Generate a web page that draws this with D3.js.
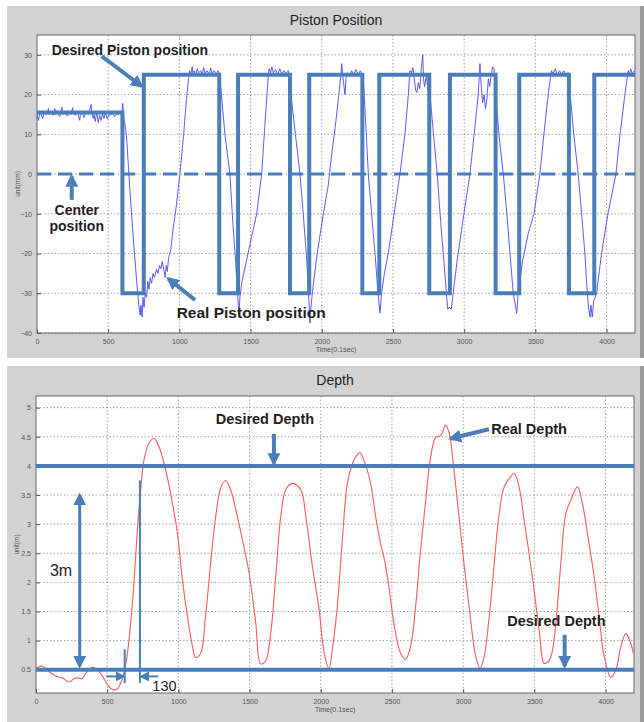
<!DOCTYPE html>
<html>
<head>
<meta charset="utf-8">
<script src="https://cdn.jsdelivr.net/npm/d3@7"></script>
<style>
  body { margin: 0; background: #fff; }
  text { font-family: "Liberation Sans", Arial, sans-serif; }
  .note { font-weight: bold; fill: #1e1e1e; }
</style>
</head>
<body>
<div id="svg-container"></div>
<script>
////////////////////////////  Data  ////////////////////////////
const timeTicks = [0, 500, 1000, 1500, 2000, 2500, 3000, 3500, 4000];
const pistonTicks = [-40, -30, -20, -10, 0, 10, 20, 30];
const depthTicks = [0.5, 1, 1.5, 2, 2.5, 3, 3.5, 4, 4.5, 5];

// desired piston position (step after each time)
const desiredT = [0, 600, 750, 1280, 1412, 1777, 1912, 2285, 2404, 2755, 2900, 3221, 3387, 3736, 3914, 4200];
const desiredV = [15.5, -30, 25, -30, 25, -30, 25, -30, 25, -30, 25, -30, 25, -30, 25, 25];
const centerV = 0;

// real piston position [time, mm]
const realPiston = [
  [0,15],[10,13.5],[20,15.5],[30,15],[40,14],[50,15.5],[60,15],[75,15.2],[80,16.5],[85,15],
  [100,15.3],[115,14.8],[125,16.5],[130,15],[145,15.4],[160,14.5],[175,16.8],[180,15],[200,15.3],
  [215,14.6],[225,15.8],[240,15],[250,16.7],[255,15.2],[270,14.8],[285,15.5],[300,13.5],[305,15],
  [320,15.3],[330,14.2],[340,15.6],[360,15],[380,17.5],[385,15.2],[395,14],[400,15],[410,13.2],
  [415,14.5],[420,15.6],[430,13],[440,14.8],[450,13.5],[460,15.2],[470,14],[480,15.4],[495,13.8],
  [505,15],[515,14.8],[530,15.3],[545,14.5],[560,15],[580,15.2],[595,15],[602,17.8],[610,14],
  [620,12],[630,9],[645,0],[660,-8],[680,-18],[700,-27],[715,-33],[725,-35.5],[730,-33],[738,-36],
  [745,-31],[752,-33.5],[760,-30],[770,-31],[778,-27],[787,-29],[795,-26],[805,-27.5],[815,-25],
  [825,-26],[840,-24],[850,-25],[860,-23],[870,-23.8],[880,-22],[890,-24],[900,-26],[908,-23],
  [915,-24.5],[925,-21],[940,-19],[955,-14],[975,-9],[1004,0],[1030,10],[1050,19],[1065,24],
  [1072,26],[1080,25],[1090,27],[1095,25.5],[1105,26],[1115,24.8],[1125,26.5],[1135,25.5],
  [1150,26],[1160,24.9],[1170,26.8],[1180,25.5],[1195,26],[1210,25],[1220,26.7],[1230,25.4],
  [1245,26],[1260,25],[1270,26],[1280,25.5],
  [1290,22],[1300,18],[1320,10],[1355,0],[1375,-12],[1395,-22],[1410,-31],[1419,-35.5],[1425,-31],
  [1440,-27],[1470,-22],[1500,-17],[1543,-10],[1578,0],[1600,12],[1615,20],[1625,25],[1630,26.5],
  [1640,25.5],[1650,27],[1660,25.5],[1675,26.3],[1690,25],[1705,26.5],[1720,25.2],[1735,26],
  [1750,25.3],[1765,26],
  [1775,24],[1790,18],[1815,10],[1847,0],[1870,-10],[1895,-22],[1910,-32],[1917,-37.5],[1925,-33],
  [1940,-28],[1968,-20],[2011,-10],[2045,-3],[2069,4.8],[2095,12],[2120,20],[2135,25],[2140,27.8],
  [2150,24],[2163,20],[2170,24],[2180,25.5],[2195,24.5],[2210,26],[2225,25],[2240,26.3],[2255,25],
  [2270,26],[2285,25],
  [2295,22],[2310,12],[2327,0],[2350,-10],[2374,-20],[2395,-30],[2409,-35],[2420,-30],[2440,-25],
  [2467,-20],[2500,-12],[2549,0],[2584,10],[2608,20],[2619,26],[2630,25.5],[2640,26.8],[2650,24],
  [2660,21],[2668,20.5],[2678,23],[2688,21.5],[2695,24],[2700,27],[2709,30],[2715,24],[2722,22],
  [2735,25],[2745,21],[2760,20],
  [2775,14],[2790,8],[2811,0],[2835,-12],[2858,-22],[2875,-30],[2885,-34],[2895,-33.5],[2910,-34],
  [2923,-30],[2950,-22],[2990,-12],[3041,0],[3070,10],[3099,20],[3111,27.8],[3120,22],[3130,18],
  [3140,20],[3150,16.5],[3160,19],[3170,24],[3180,22],[3190,25],[3200,27],[3210,26.5],
  [3225,18],[3250,8],[3275,0],[3300,-10],[3322,-20],[3345,-30],[3369,-35],[3380,-30],[3410,-22],
  [3450,-15],[3490,-10],[3532,0],[3560,10],[3590,20],[3605,24],[3614,26],[3625,25.3],[3640,26.5],
  [3655,25],[3670,26],[3685,25.2],[3700,26],[3715,25],[3731,25.5],
  [3745,20],[3770,10],[3801,0],[3825,-10],[3848,-20],[3865,-30],[3875,-34],[3884,-36],[3890,-33],
  [3900,-36],[3910,-32],[3930,-30],[3965,-20],[4010,-10],[4066,0],[4095,10],[4129,20],[4152,26],
  [4160,25],[4170,26.5],[4180,25.3],[4195,26]
];

// desired depth levels (m)
const desiredDepth = [4, 0.5];

// real depth [time, m]
const realDepth = [
  [2,0.53],[45,0.56],[91,0.47],[138,0.39],[185,0.36],[232,0.29],[279,0.36],[325,0.35],[360,0.47],
  [396,0.54],[431,0.5],[466,0.39],[501,0.25],[536,0.16],[571,0.17],[595,0.27],[618,0.44],[642,0.78],
  [665,1.3],[688,1.99],[712,2.9],[735,3.58],[758,4.1],[793,4.39],[829,4.47],[864,4.33],[911,3.93],
  [958,3.36],[993,2.85],[1028,2.05],[1063,1.42],[1098,0.91],[1121,0.71],[1156,0.78],[1191,1.42],
  [1227,2.34],[1262,3.13],[1297,3.62],[1332,3.75],[1367,3.59],[1414,3.13],[1449,2.74],[1496,2.17],
  [1543,1.31],[1578,0.6],[1613,0.65],[1649,1.14],[1684,2.11],[1719,3.13],[1754,3.59],[1801,3.7],
  [1860,3.59],[1895,3.13],[1941,2.28],[1988,1.54],[2023,0.8],[2058,0.52],[2081,0.84],[2116,1.58],
  [2151,2.72],[2186,3.69],[2221,4.03],[2245,4.15],[2276,4.23],[2304,4.09],[2351,3.69],[2386,3.12],
  [2421,2.66],[2444,2.43],[2479,1.92],[2514,1.29],[2561,0.78],[2596,0.68],[2631,0.9],[2666,1.58],
  [2701,2.55],[2737,3.41],[2772,4.15],[2807,4.49],[2842,4.52],[2877,4.7],[2901,4.57],[2936,3.92],
  [2971,3.12],[3006,2.32],[3042,1.58],[3089,0.72],[3119,0.52],[3147,0.72],[3183,1.41],[3218,2.32],
  [3253,3.18],[3288,3.64],[3323,3.78],[3358,3.87],[3393,3.64],[3428,3.07],[3463,2.5],[3498,1.87],
  [3534,1.18],[3569,0.61],[3599,0.64],[3623,0.78],[3651,1.3],[3686,2.32],[3721,3.18],[3756,3.41],
  [3803,3.64],[3838,3.35],[3873,2.84],[3920,2.1],[3955,1.41],[3991,0.72],[4037,0.37],[4073,0.5],
  [4108,0.9],[4143,1.12],[4178,0.95],[4195,0.78]
];

////////////////////////////  Init  ////////////////////////////
const W = 644, H = 722;
const blue = "#4a7ebb";

const svg = d3.select("#svg-container").append("svg")
  .attr("width", W).attr("height", H);

svg.append("rect").attr("width", W).attr("height", H).attr("fill", "#fff");

const defs = svg.append("defs");
function marker(id, size) {
  defs.append("marker")
    .attr("id", id)
    .attr("viewBox", "0 0 10 10")
    .attr("refX", 8).attr("refY", 5)
    .attr("markerUnits", "userSpaceOnUse")
    .attr("markerWidth", size).attr("markerHeight", size)
    .attr("orient", "auto-start-reverse")
    .append("path").attr("d", "M0,0L10,5L0,10z").attr("fill", blue);
}
marker("head", 13);
marker("headS", 10);

// one matlab-like panel
function panel(cfg) {
  const g = svg.append("g");
  g.append("rect")
    .attr("x", 7).attr("y", cfg.top).attr("width", 634).attr("height", cfg.bottom - cfg.top)
    .attr("fill", "#d2d2d2");
  g.append("rect")
    .attr("x", 640).attr("y", cfg.top).attr("width", 4).attr("height", cfg.bottom - cfg.top)
    .attr("fill", "#9a9a9a");

  const x = d3.scaleLinear().domain([0, 4200]).range([cfg.left, cfg.right]);
  const y = d3.scaleLinear().domain(cfg.yDomain).range([cfg.plotBottom, cfg.plotTop]);

  g.append("rect")
    .attr("x", cfg.left).attr("y", cfg.plotTop)
    .attr("width", cfg.right - cfg.left).attr("height", cfg.plotBottom - cfg.plotTop)
    .attr("fill", "#fff");

  // grid
  g.append("g").selectAll("line").data(timeTicks.slice(1)).join("line")
    .attr("x1", d => x(d)).attr("x2", d => x(d))
    .attr("y1", cfg.plotTop).attr("y2", cfg.plotBottom)
    .attr("stroke", "#8a8a8a").attr("stroke-width", 0.8).attr("stroke-dasharray", "1.5,2");
  g.append("g").selectAll("line").data(cfg.yTicks).join("line")
    .attr("x1", cfg.left).attr("x2", cfg.right)
    .attr("y1", d => y(d)).attr("y2", d => y(d))
    .attr("stroke", "#8a8a8a").attr("stroke-width", 0.8).attr("stroke-dasharray", "1.5,2");

  // axes
  const xAxis = g.append("g")
    .attr("transform", `translate(0,${cfg.plotBottom})`)
    .call(d3.axisBottom(x).tickValues(timeTicks).tickSize(-4).tickPadding(6).tickFormat(d3.format("d")));
  const yAxis = g.append("g")
    .attr("transform", `translate(${cfg.left},0)`)
    .call(d3.axisLeft(y).tickValues(cfg.yTicks).tickSize(-4).tickPadding(5).tickFormat(d3.format("")));
  [xAxis, yAxis].forEach(a => {
    a.select(".domain").remove();
    a.selectAll(".tick line").attr("stroke", "#555");
    a.selectAll(".tick text").attr("font-size", 7).attr("fill", "#555")
      .attr("font-family", "Liberation Sans, Arial, sans-serif");
  });

  g.append("rect")
    .attr("x", cfg.left).attr("y", cfg.plotTop)
    .attr("width", cfg.right - cfg.left).attr("height", cfg.plotBottom - cfg.plotTop)
    .attr("fill", "none").attr("stroke", "#666").attr("stroke-width", 1);

  g.append("text")
    .attr("x", (cfg.left + cfg.right) / 2).attr("y", cfg.top + 19)
    .attr("text-anchor", "middle").attr("font-size", 14).attr("fill", "#222")
    .text(cfg.title);
  g.append("text")
    .attr("x", (cfg.left + cfg.right) / 2).attr("y", cfg.plotBottom + 19)
    .attr("text-anchor", "middle").attr("font-size", 7).attr("fill", "#555")
    .text("Time(0.1sec)");
  g.append("text")
    .attr("transform", `translate(${cfg.left - 17},${(cfg.plotTop + cfg.plotBottom) / 2}) rotate(-90)`)
    .attr("text-anchor", "middle").attr("font-size", 6.5).attr("fill", "#555")
    .text(cfg.yLabel);

  return { g, x, y };
}

function arrow(g, x, y, a, b, width, head, both) {
  const l = g.append("line")
    .attr("x1", x(a[0])).attr("y1", y(a[1]))
    .attr("x2", x(b[0])).attr("y2", y(b[1]))
    .attr("stroke", blue).attr("stroke-width", width)
    .attr("marker-end", `url(#${head})`);
  if (both) l.attr("marker-start", `url(#${head})`);
}

function note(g, x, y, t, v, str, size, anchor, bold) {
  return g.append("text")
    .attr("class", bold === false ? null : "note")
    .attr("x", x(t)).attr("y", y(v))
    .attr("dy", "0.35em")
    .attr("text-anchor", anchor || "start")
    .attr("font-size", size)
    .attr("fill", "#1e1e1e")
    .text(str);
}

////////////////////////////  Piston  ////////////////////////////
const pTop = panel({
  title: "Piston Position", yLabel: "unit(mm)",
  top: 6, bottom: 358, left: 37, right: 635, plotTop: 35, plotBottom: 333,
  yDomain: [-40, 35], yTicks: pistonTicks
});

const desired = desiredT.map((t, i) => [t, desiredV[i]]);

pTop.g.append("line")
  .attr("x1", pTop.x(0)).attr("x2", pTop.x(4200))
  .attr("y1", pTop.y(centerV)).attr("y2", pTop.y(centerV))
  .attr("stroke", blue).attr("stroke-width", 3).attr("stroke-dasharray", "14,7");

pTop.g.append("path")
  .datum(realPiston)
  .attr("d", d3.line().x(d => pTop.x(d[0])).y(d => pTop.y(d[1])))
  .attr("fill", "none").attr("stroke", "#4848ff").attr("stroke-width", 0.9);

pTop.g.append("path")
  .datum(desired)
  .attr("d", d3.line().curve(d3.curveStepAfter).x(d => pTop.x(d[0])).y(d => pTop.y(d[1])))
  .attr("fill", "none").attr("stroke", blue).attr("stroke-width", 4);

note(pTop.g, pTop.x, pTop.y, 103, 31.1, "Desired Piston position", 14);
arrow(pTop.g, pTop.x, pTop.y, [454, 29.7], [735, 22.1], 4, "head");
arrow(pTop.g, pTop.x, pTop.y, [244, -6.5], [244, -0.6], 4, "head");
note(pTop.g, pTop.x, pTop.y, 279, -9, "Center", 14, "middle");
note(pTop.g, pTop.x, pTop.y, 279, -13.2, "position", 14, "middle");
note(pTop.g, pTop.x, pTop.y, 981, -34.8, "Real Piston position", 15.5);
arrow(pTop.g, pTop.x, pTop.y, [1110, -31.7], [922, -26.3], 4, "head");

////////////////////////////  Depth  ////////////////////////////
const pBot = panel({
  title: "Depth", yLabel: "unit(m)",
  top: 366, bottom: 722, left: 36, right: 634, plotTop: 396, plotBottom: 693,
  yDomain: [0.1, 5.2], yTicks: depthTicks
});

pBot.g.append("path")
  .datum(realDepth)
  .attr("d", d3.line().curve(d3.curveCatmullRom).x(d => pBot.x(d[0])).y(d => pBot.y(d[1])))
  .attr("fill", "none").attr("stroke", "#ff5a5a").attr("stroke-width", 1.1);

pBot.g.append("g").selectAll("line").data(desiredDepth).join("line")
  .attr("x1", pBot.x(0)).attr("x2", pBot.x(4200))
  .attr("y1", d => pBot.y(d)).attr("y2", d => pBot.y(d))
  .attr("stroke", blue).attr("stroke-width", 4);

note(pBot.g, pBot.x, pBot.y, 1608, 4.81, "Desired Depth", 14.5, "middle");
arrow(pBot.g, pBot.x, pBot.y, [1671, 4.55], [1671, 4.04], 4, "head");
note(pBot.g, pBot.x, pBot.y, 3197, 4.64, "Real Depth", 14.5);
arrow(pBot.g, pBot.x, pBot.y, [3181, 4.63], [2912, 4.47], 4, "head");
note(pBot.g, pBot.x, pBot.y, 3655, 1.34, "Desired Depth", 14.5, "middle");
arrow(pBot.g, pBot.x, pBot.y, [3713, 1.1], [3713, 0.56], 4, "head");

arrow(pBot.g, pBot.x, pBot.y, [307, 3.5], [307, 0.56], 3, "head", true);
note(pBot.g, pBot.x, pBot.y, 176, 2.21, "3m", 16, "middle", false);

pBot.g.append("line")
  .attr("x1", pBot.x(623)).attr("x2", pBot.x(623))
  .attr("y1", pBot.y(0.85)).attr("y2", pBot.y(0.27))
  .attr("stroke", blue).attr("stroke-width", 2);
pBot.g.append("line")
  .attr("x1", pBot.x(730)).attr("x2", pBot.x(730))
  .attr("y1", pBot.y(3.75)).attr("y2", pBot.y(0.27))
  .attr("stroke", blue).attr("stroke-width", 2);
arrow(pBot.g, pBot.x, pBot.y, [494, 0.385], [616, 0.385], 2, "headS");
arrow(pBot.g, pBot.x, pBot.y, [859, 0.385], [738, 0.385], 2, "headS");
note(pBot.g, pBot.x, pBot.y, 817, 0.226, "130", 14.5, "start", false);
</script>
</body>
</html>
